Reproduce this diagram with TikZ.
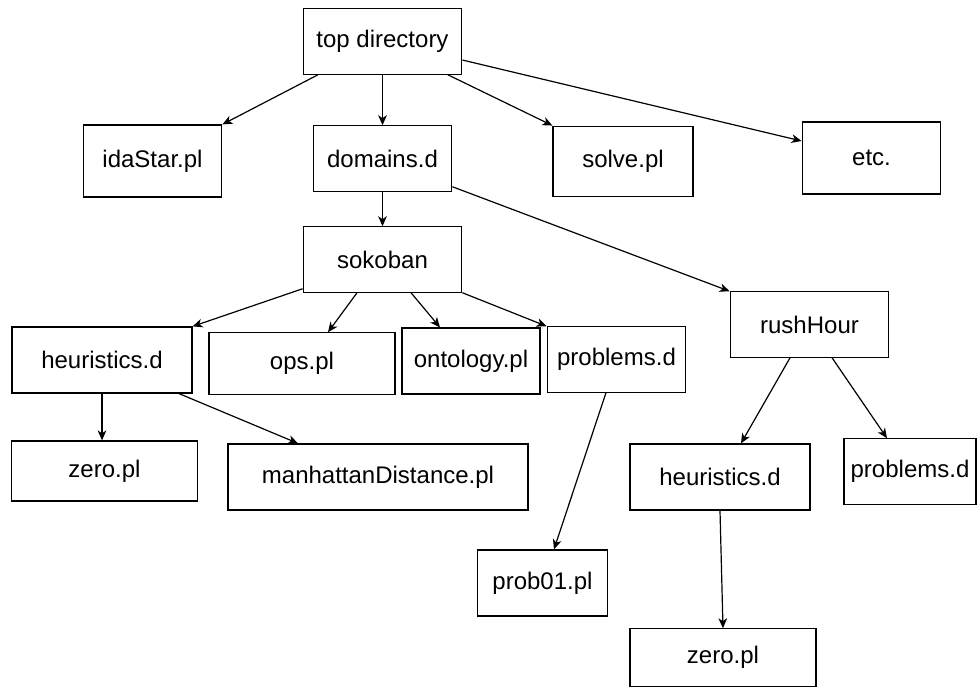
\documentclass[tikz,border=0pt]{standalone}
\usepackage{fontspec}
\setmainfont{Liberation Sans}
\usetikzlibrary{arrows.meta}

\begin{document}
\begin{tikzpicture}[x=0.75pt, y=-0.75pt, font=\fontsize{18}{21}\selectfont,
  dirbox/.style={draw, line width=0.9pt, inner sep=0pt},
  arr/.style={line width=0.9pt, -{Stealth[length=7.5pt,width=6.5pt,inset=2.2pt]}}]
\useasboundingbox (0,0) rectangle (978,688);
% top level
\node[dirbox, minimum width=119pt, minimum height=49pt] (top) at (382.5,41.5) {top directory};
\node[dirbox, minimum width=104pt, minimum height=54pt] (idastar) at (152.5,161) {idaStar.pl};
\node[dirbox, minimum width=104pt, minimum height=49pt] (domains) at (382.5,158.5) {domains.d};
\node[dirbox, minimum width=105pt, minimum height=53pt] (solve) at (623,161.5) {solve.pl};
\node[dirbox, minimum width=104pt, minimum height=54pt] (etc) at (871.5,158) {etc.};

% domains
\node[dirbox, minimum width=119pt, minimum height=49pt] (sokoban) at (382.5,259.5) {sokoban};
\node[dirbox, minimum width=119pt, minimum height=49pt] (rushhour) at (809.5,324.5) {rushHour};

% sokoban
\node[dirbox, minimum width=135pt, minimum height=49.5pt] (sokheur) at (102,360) {heuristics.d};
\node[dirbox, minimum width=139.5pt, minimum height=46pt] (ops) at (302,363.5) {ops.pl};
\node[dirbox, minimum width=103.5pt, minimum height=49.5pt] (ontology) at (471,361) {ontology.pl};
\node[dirbox, minimum width=104pt, minimum height=49pt] (sokprobs) at (616.5,359.5) {problems.d};
\node[dirbox, minimum width=139pt, minimum height=45pt] (sokzero) at (104.5,471) {zero.pl};
\node[dirbox, minimum width=225pt, minimum height=49.5pt] (manhattan) at (378,477) {manhattanDistance.pl};
\node[dirbox, minimum width=98pt, minimum height=49.5pt] (prob01) at (542.5,583) {prob01.pl};

% rushHour
\node[dirbox, minimum width=135pt, minimum height=49.5pt] (rushheur) at (720,477) {heuristics.d};
\node[dirbox, minimum width=99pt, minimum height=49pt] (rushprobs) at (910,471.5) {problems.d};
\node[dirbox, minimum width=139.5pt, minimum height=43pt] (rushzero) at (723,657.5) {zero.pl};

% connectors
\draw[arr] ([xshift=-48.4pt]top.south) -- (idastar.north east);
\draw[arr] (top.south) -- (domains.north);
\draw[arr] ([xshift=49pt]top.south) -- (solve.north west);
\draw[arr] ([yshift=-13.9pt]top.east) -- ([yshift=12.75pt]etc.west);
\draw[arr] (domains.south) -- (sokoban.north);
\draw[arr] ([yshift=3.75pt]domains.south east) -- (rushhour.north west);

\draw[arr] ([yshift=3pt]sokoban.south west) -- (sokheur.north east);
\draw[arr] ([xshift=-19.1pt]sokoban.south) -- ([xshift=19.5pt]ops.north);
\draw[arr] ([xshift=21.4pt]sokoban.south) -- ([xshift=-23.25pt]ontology.north);
\draw[arr] (sokoban.south east) -- (sokprobs.north west);
\draw[arr] (sokheur.south) -- (sokheur.south |- sokzero.north);
\draw[arr] ([xshift=57.75pt]sokheur.south) -- ([xshift=-60pt]manhattan.north);
\draw[arr] ([xshift=-7.9pt]sokprobs.south) -- ([xshift=8.6pt]prob01.north);

\draw[arr] ([xshift=-14.6pt]rushhour.south) -- ([xshift=15.75pt]rushheur.north);
\draw[arr] ([xshift=16.9pt]rushhour.south) -- ([xshift=-17.25pt]rushprobs.north);
\draw[arr] (rushheur.south) -- (rushzero.north);
\end{tikzpicture}
\end{document}
